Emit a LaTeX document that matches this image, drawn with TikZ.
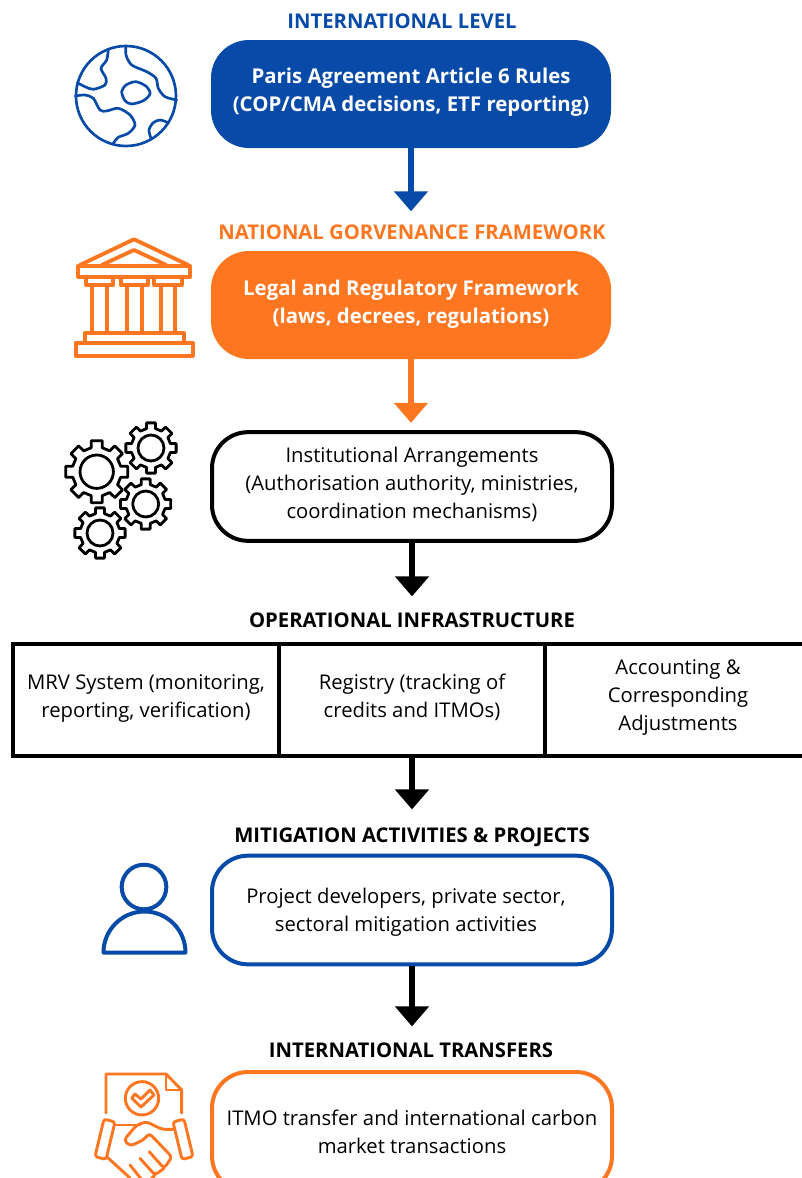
\documentclass[tikz,border=0pt]{standalone}
\usepackage{fontspec}
\setmainfont{Open Sans}
\usetikzlibrary{arrows.meta}
\definecolor{bluec}{HTML}{084AA8}
\definecolor{orangec}{HTML}{FF7621}
\tikzset{
  boxnode/.style={draw,line width=3pt,rounded corners=27pt,minimum width=300pt,minimum height=81.5pt,align=center,font=\fontsize{15.2}{21}\selectfont},
  filledbox/.style={boxnode,fill=#1,draw=#1,text=white,minimum width=297pt,minimum height=78pt,font=\fontsize{15.3}{21}\selectfont\bfseries},
  cellnode/.style={draw,line width=3pt,minimum width=199.5pt,minimum height=84.5pt,align=center,font=\fontsize{15.2}{21}\selectfont},
  levelnode/.style={font=\fontsize{15.2}{18}\selectfont\bfseries,inner sep=0pt,text height=11pt,text depth=0pt},
  flowarrow/.style={line width=4.5pt,-{Triangle[width=24.75pt,length=15pt]}},
  iconline/.style={line width=2pt,line join=round,line cap=round},
}
\newcommand{\gearicon}[4]{%
  \draw[iconline,line width=2.1pt,shift={(#1,#2)}]
    (-13:#3*0.78) \foreach \a in {0,45,...,315} {
      -- (\a-13:#3*0.78) -- (\a-10:#3) -- (\a+10:#3) -- (\a+13:#3*0.78)
    } -- cycle (0,0) circle[radius=#4*0.75pt];
}
\begin{document}
\begin{tikzpicture}[x=0.75pt,y=-0.75pt]
  \useasboundingbox (0,0) rectangle (802,1178);
  \node[levelnode,text=bluec] (intllabel) at (402,21) {INTERNATIONAL LEVEL};
  \node[filledbox=bluec] (parisbox) at (411,94) {Paris Agreement Article 6 Rules\\(COP/CMA decisions, ETF reporting)\\[-15pt]};
  \node[levelnode,text=orangec] (natlabel) at (412,232) {NATIONAL GORVENANCE FRAMEWORK};
  \node[filledbox=orangec] (legalbox) at (411,305) {Legal and Regulatory Framework\\(laws, decrees, regulations)\\[-16.5pt]};
  \node[boxnode,draw=black,fill=white] (instbox) at (412,486.5) {Institutional Arrangements\\(Authorisation authority, ministries,\\coordination mechanisms)\\[-15pt]};
  \node[levelnode] (oplabel) at (412,620) {OPERATIONAL INFRASTRUCTURE};
  \node[cellnode] (mrvcell) at (146,700) {MRV System (monitoring,\\reporting, verification)\\[-14.5pt]};
  \node[cellnode] (regcell) at (412,700) {Registry (tracking of\\credits and ITMOs)\\[-14.5pt]};
  \node[cellnode] (acccell) at (678,700) {Accounting \&\\Corresponding\\Adjustments\\[-13.5pt]};
  \node[levelnode] (mitlabel) at (412,835) {MITIGATION ACTIVITIES \& PROJECTS};
  \node[boxnode,draw=bluec] (projbox) at (412,910) {Project developers, private sector,\hspace*{9pt}\\sectoral mitigation activities\hspace*{9pt}\mbox{}\\[-21pt]};
  \node[levelnode] (translabel) at (411,1050) {INTERNATIONAL TRANSFERS};
  \node[boxnode,draw=orangec,minimum height=90pt] (itmobox) at (412,1132) {ITMO transfer and international carbon\\market transactions};
  \draw[flowarrow,bluec,shorten >=8pt] (parisbox.south) -- (411,222);
  \draw[flowarrow,orangec,shorten >=5.5pt] (legalbox.south) -- (instbox.north -| legalbox.south);
  \draw[flowarrow,shorten >=12pt] (instbox.south) -- (oplabel.north);
  \draw[flowarrow,shorten >=13.5pt] (regcell.south) -- (mitlabel.north);
  \draw[flowarrow,shorten >=12pt] (projbox.south) -- (translabel.north -| projbox.south);
  \begin{scope}[bluec,iconline]
    \draw (126,96) circle[radius=37.5pt];
    \draw plot[smooth] coordinates {(108.3,49.3) (106.7,60) (101,68.3) (106,78.3) (105,85) (93.3,89.3) (85,86.7) (77.3,82.7)};
    \draw plot[smooth] coordinates {(126,46) (126,55) (131.7,65) (146.7,71.7) (156,78.3) (158.3,88.3) (165,96.7) (176.7,100)};
    \draw plot[smooth cycle] coordinates {(121.7,91.7) (126,85) (136,81.7) (146.7,86.7) (150,94) (143.3,100.7) (131.7,104) (125,100.7)};
    \draw plot[smooth] coordinates {(75.3,96) (85,95) (93.3,98.3) (100,110) (106.7,111) (118.3,108.3) (130,115) (135,125) (128.3,133.3) (118.3,137.3) (113.3,143.3)};
    \draw plot[smooth] coordinates {(151,138.3) (149,130) (153.3,122.7) (160,120) (168.3,122.7)};
    \draw[line width=3pt] (185.5,952.5) -- (103.5,952.5) arc[start angle=180,end angle=0,radius=30.75pt] -- cycle;
    \draw[line width=3pt] (144,887) circle[radius=16.75pt];
  \end{scope}
  \begin{scope}[orangec,iconline,line width=2.9pt]
    \draw (80,265) -- (134,239.3) -- (188.3,265);
    \draw (101.7,265) -- (134,250) -- (166.3,265);
    \draw (78.3,266) rectangle (190,276.7);
    \draw (86,276.7) -- (86,285) -- (113.3,285) -- (113.3,276.7);
    \draw (120.7,276.7) -- (120.7,285) -- (148.3,285) -- (148.3,276.7);
    \draw (154.3,276.7) -- (154.3,285) -- (181.7,285) -- (181.7,276.7);
    \foreach \colx in {92.3,107.3,127.3,141.7,160.7,175} {
      \draw (\colx,285) -- (\colx,333);
    }
    \draw (84.7,342.7) -- (84.7,333.3) -- (184,333.3) -- (184,342.7);
    \draw (75.7,342.7) rectangle (192.7,355.7);
  \end{scope}
  \gearicon{96.7}{471.7}{31.5}{16.7}
  \gearicon{151}{448}{25.5}{13}
  \gearicon{145.7}{504}{25.5}{13}
  \gearicon{100}{533}{25.5}{13}
  \begin{scope}[orangec,iconline,line width=2.2pt]
    \draw (106,1113) -- (106,1074) -- (166,1074) -- (181.7,1090) -- (181.7,1113);
    \draw (166,1074) -- (166,1090) -- (181.7,1090);
    \draw (142,1098.3) circle[radius=12.5pt];
    \draw (131.7,1098) -- (135,1094) -- (141,1099) -- (150,1090) -- (154,1095) -- (141,1107) -- cycle;
    \draw[rounded corners=2pt] (104,1119) -- (115,1122) -- (106,1159.5) -- (95,1156.5) -- cycle;
    \draw[rounded corners=2pt] (173,1122) -- (184,1119) -- (193,1156.5) -- (182,1159.5) -- cycle;
    \draw (116,1125) -- (140,1125);
    \draw[rounded corners=2.5pt] (172.7,1129.3) -- (161.7,1129.3) -- (146.7,1121.7) -- (136.7,1125) -- (124,1140) -- (130,1146) -- (143.3,1140) -- (149.3,1133.3) -- (172,1157) -- (164,1168.3) -- (149.3,1151.7);
    \draw (106.7,1156.7) -- (130,1178);
    \draw[rounded corners=2.5pt] (164,1168.3) -- (155,1175) -- (140,1158.3);
    \draw (155,1175) -- (150,1180);
    \draw (130,1165) -- (142,1180);
  \end{scope}
\end{tikzpicture}
\end{document}
